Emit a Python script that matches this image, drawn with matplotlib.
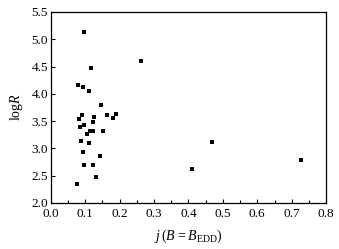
import matplotlib
matplotlib.use("Agg")
import matplotlib.pyplot as plt
from matplotlib.ticker import MultipleLocator, FormatStrFormatter

plt.rcParams['font.family'] = ['Liberation Serif', 'DejaVu Serif']
plt.rcParams['mathtext.fontset'] = 'custom'
plt.rcParams['mathtext.rm'] = 'Liberation Serif'
plt.rcParams['mathtext.it'] = 'Liberation Serif:italic'

j_vals = [0.097, 0.118, 0.078, 0.094, 0.111, 0.261, 0.145,
          0.091, 0.081, 0.125, 0.123, 0.163, 0.189, 0.181,
          0.097, 0.086, 0.113, 0.122, 0.151, 0.104,
          0.089, 0.111, 0.092, 0.143, 0.096, 0.123, 0.131, 0.075,
          0.411, 0.469, 0.726]
logR = [5.13, 4.48, 4.17, 4.12, 4.06, 4.60, 3.80,
        3.62, 3.53, 3.58, 3.48, 3.61, 3.63, 3.55,
        3.43, 3.39, 3.32, 3.32, 3.32, 3.26,
        3.14, 3.09, 2.93, 2.86, 2.70, 2.70, 2.48, 2.34,
        2.63, 3.12, 2.79]

fig = plt.figure(figsize=(3.39, 2.49), dpi=100)
ax = fig.add_axes([0.150, 0.185, 0.812, 0.767])
ax.scatter(j_vals, logR, marker='s', s=12, color='black', linewidths=0)
ax.set_xlim(0.0, 0.8)
ax.set_ylim(2.0, 5.5)
ax.xaxis.set_major_locator(MultipleLocator(0.1))
ax.xaxis.set_minor_locator(MultipleLocator(0.05))
ax.yaxis.set_major_locator(MultipleLocator(0.5))
ax.tick_params(which='both', direction='in', labelsize=9.5)
ax.tick_params(axis='x', which='both', pad=4)
ax.tick_params(axis='y', which='both', pad=2)
ax.tick_params(which='major', length=3, width=0.8)
ax.tick_params(which='minor', length=2, width=0.8)
ax.xaxis.set_major_formatter(FormatStrFormatter('%.1f'))
ax.yaxis.set_major_formatter(FormatStrFormatter('%.1f'))
for sp in ax.spines.values():
    sp.set_linewidth(0.9)
ax.set_xlabel(r'$j\,(B\,{=}B_{\mathrm{EDD}})$', fontsize=10, labelpad=5)
ax.set_ylabel(r'$\mathrm{log}R$', fontsize=10, labelpad=5)
fig.savefig('out.png', dpi=100)
